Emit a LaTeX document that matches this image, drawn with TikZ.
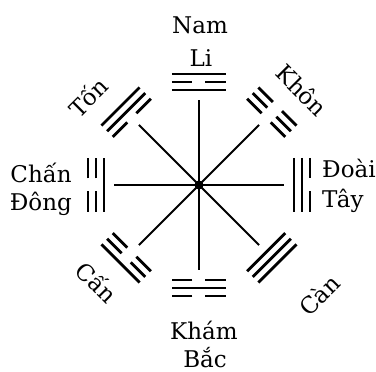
\documentclass[tikz,border=0pt]{standalone}
\usepackage{fontspec}
\setmainfont{DejaVu Serif}
\tikzset{
  yao/.style={line width=2.8pt},
  spoke/.style={line width=2pt},
  lbl/.style={font=\fontsize{23}{27}\selectfont, inner sep=0pt}
}
\begin{document}
\begin{tikzpicture}[x=1pt,y=1pt]
        \useasboundingbox (-199,-187) rectangle (177,185);

        % spokes
        \coordinate (c) at (0,0);
        \foreach \ang in {0,45,...,315}{
            \coordinate (s\ang) at (\ang:85);
            \draw[spoke] (c) -- (s\ang);
        }
        \fill (c) circle (4.5);

        % trigrams: angle / bottom / middle / top (1 = solid, 0 = broken)
        \foreach \ang/\a/\b/\c in {90/1/0/1,270/0/1/0,180/1/0/0,0/1/1/0,
                                   135/0/1/1,45/0/0/0,225/0/0/1,315/1/1/1}{
            \begin{scope}[rotate=\ang-90]
                \foreach \r/\t in {95/\a,103/\b,111/\c}{
                    \ifnum\t=1
                        \draw[yao] (-27,\r) -- (27,\r);
                    \else
                        \draw[yao] (-27,\r) -- (-6.5,\r) (6.5,\r) -- (27,\r);
                    \fi
                }
            \end{scope}
        }

        \node[lbl] (nam) at (1,160) {Nam};
        \node[lbl] (li) at (2,127) {Li};
        \node[lbl] (kham) at (5,-145) {Khám};
        \node[lbl] (bac) at (6,-173) {Bắc};
        \node[lbl,anchor=base east] (chan) at (-127,2) {Chấn};
        \node[lbl,anchor=base east] (dong) at (-127,-26) {Đông};
        \node[lbl,anchor=base west] (doai) at (123,7) {Đoài};
        \node[lbl,anchor=base west] (tay) at (123,-23) {Tây};
        \node[lbl,rotate=45] (ton) at (-111,88) {Tốn};
        \node[lbl,rotate=-45] (khon) at (103,95) {Khôn};
        \node[lbl,rotate=-45] (can) at (-102,-97) {Cấn};
        \node[lbl,rotate=45] (cann) at (120,-110) {Càn};
    \end{tikzpicture}
\end{document}
